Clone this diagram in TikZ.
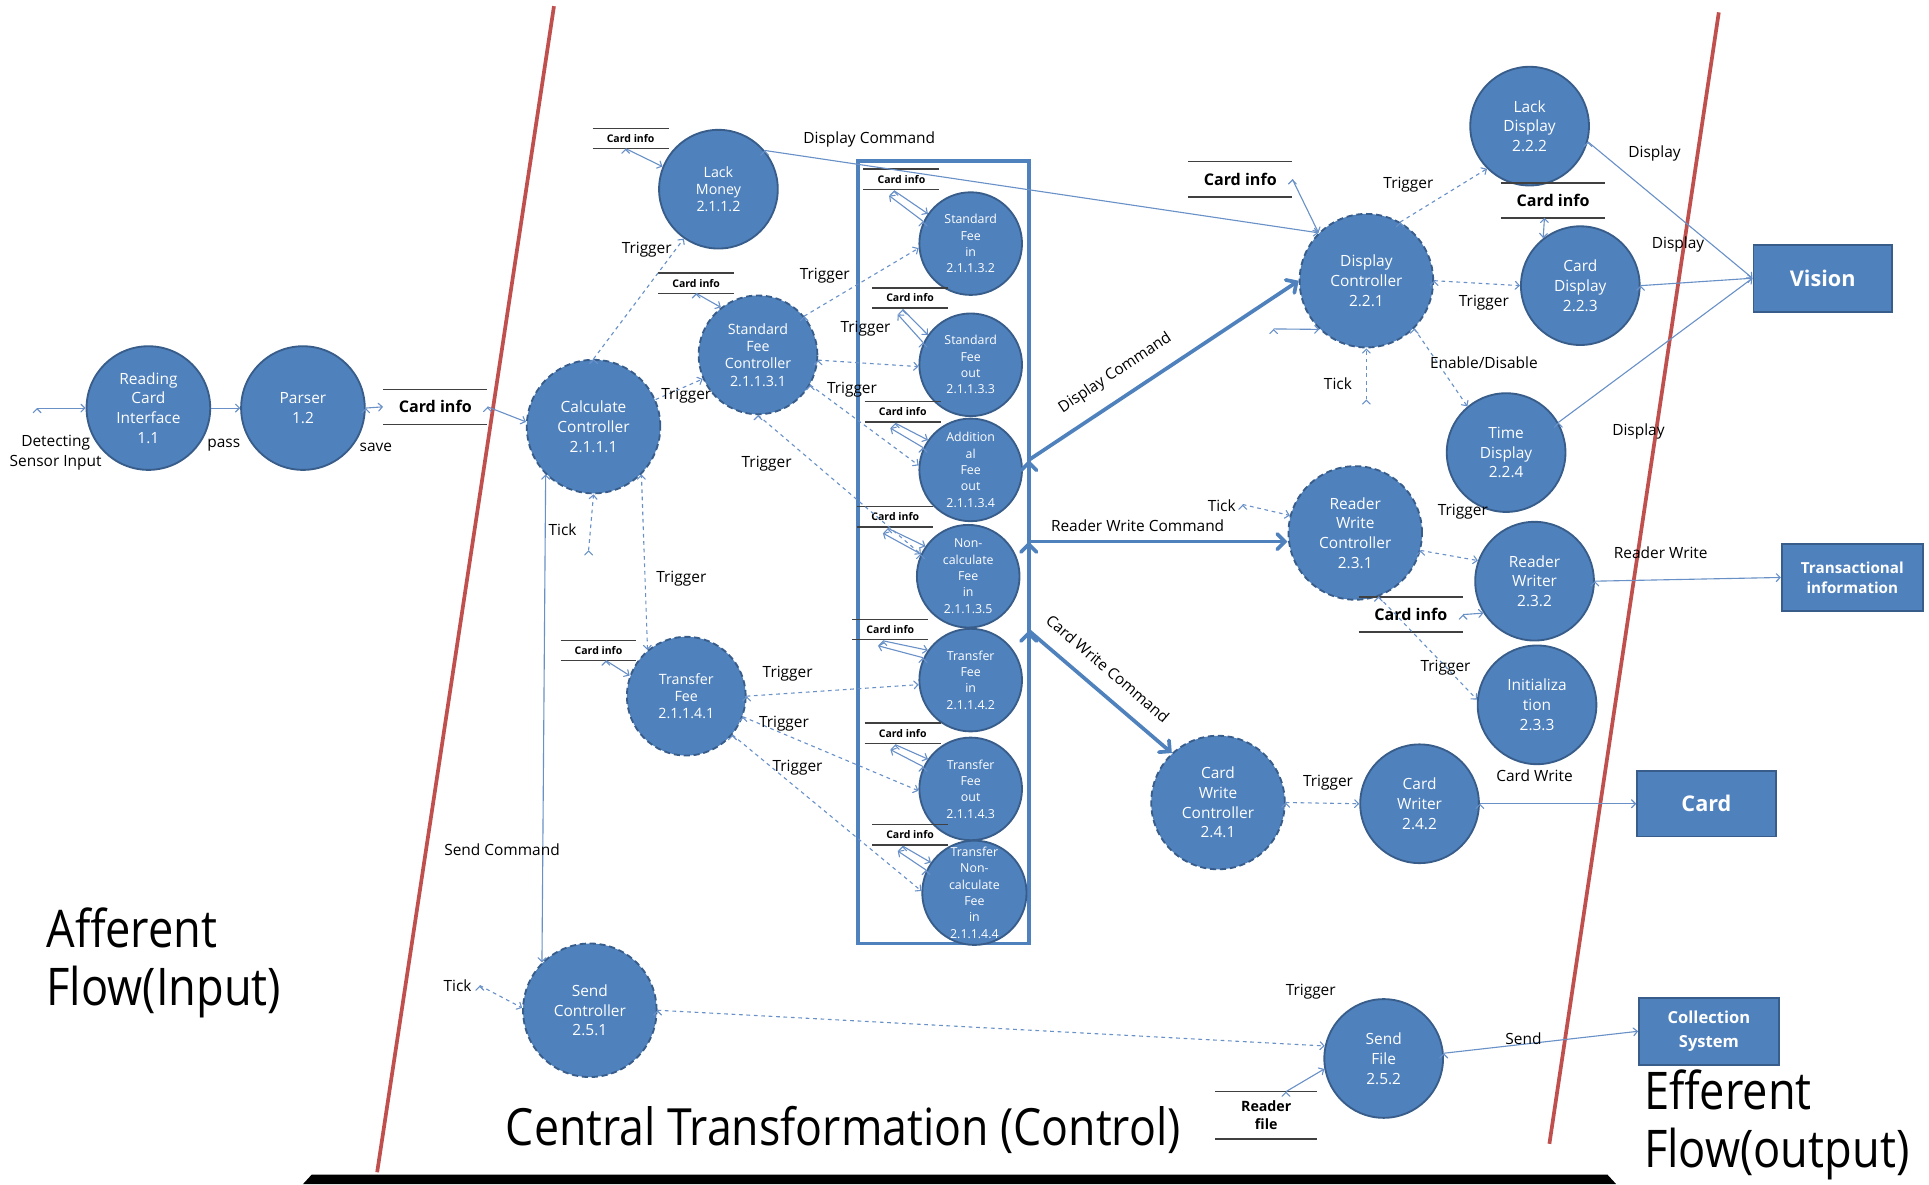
\documentclass[tikz,border=0pt]{standalone}
\usepackage{fontspec}
\setmainfont{Open Sans}
\newfontfamily\bigfont[FakeStretch=0.87]{Open Sans}
\usetikzlibrary{arrows}

\definecolor{dfdblue}{RGB}{79,129,189}
\definecolor{dfdedge}{RGB}{56,93,138}
\definecolor{flowcol}{RGB}{105,145,200}
\definecolor{splitred}{RGB}{192,80,77}

\begin{document}
\begin{tikzpicture}[x=1pt,y=-1pt,
   proc/.style={circle,fill=dfdblue,draw=dfdedge,line width=1.5pt,text=white,align=center,inner sep=0pt,minimum size=96pt,font=\fontsize{12.5}{16}\selectfont},
   ctrl/.style={proc,minimum size=108pt,dash pattern=on 5pt off 3pt},
   subctrl/.style={ctrl,minimum size=96pt,font=\fontsize{11.5}{14}\selectfont},
   fee/.style={proc,minimum size=83pt,font=\fontsize{10}{13.2}\selectfont},
   ext/.style={rectangle,fill=dfdblue,draw=dfdedge,line width=1.5pt,text=white,align=center,inner sep=0pt},
   storeline/.style={draw=black!75,line width=1.2pt},
   store/.style={inner sep=0pt,minimum width=84pt,minimum height=28pt,align=center,font=\bfseries\fontsize{13}{15}\selectfont,
      append after command={(\tikzlastnode.north west) edge[storeline] (\tikzlastnode.north east)
                            (\tikzlastnode.south west) edge[storeline] (\tikzlastnode.south east)}},
   ministore/.style={store,minimum width=61pt,minimum height=16pt,font=\bfseries\fontsize{8.5}{10}\selectfont},
   lbl/.style={font=\fontsize{12.5}{16}\selectfont,align=center,inner sep=0pt},
   flow/.style={->,>=angle 90,draw=flowcol,line width=0.9pt},
   trig/.style={flow,dashed},
   cmd/.style={->,>=angle 90,draw=dfdblue,line width=3pt}]
   \useasboundingbox (0,0) rectangle (1560,957.6);

   % boundaries
   \draw[splitred,line width=3pt] (448,5) -- (305,948);
   \draw[splitred,line width=3pt] (1390,10) -- (1253,925);
   \fill[black] (245,957.6) -- (252,950) -- (1300,950) -- (1307,957.6) -- cycle;
   \node[anchor=west,align=left,font=\bigfont\fontsize{42}{47}\selectfont] (afferent) at (34,779) {Afferent\\Flow(Input)};
   \node[font=\bigfont\fontsize{41.5}{46}\selectfont] (central) at (682,914) {Central Transformation (Control)};
   \node[anchor=west,align=left,font=\bigfont\fontsize{42}{47}\selectfont] (efferent) at (1326,910) {Efferent\\Flow(output)};

   % afferent flow
   \coordinate (sensor) at (30,330);
   \node[proc,minimum size=100pt] (rci) at (120,330) {Reading\\Card\\Interface\\1.1};
   \node[proc,minimum size=100pt] (parser) at (245,330) {Parser\\1.2};
   \node[store] (cinfo) at (352,329) {Card info};
   \path[flow] (sensor) edge (rci.west);
   \path[flow] (rci) edge (parser);
   \path[flow] (parser.east) edge (cinfo.west);
   \node[lbl] (lsensor) at (45,366) {Detecting\\Sensor Input};
   \node[lbl] (lpass) at (181,360) {pass};
   \node[lbl] (lsave) at (304,362) {save};

   % calculation
   \node[ctrl] (calc) at (480,345) {Calculate\\Controller\\2.1.1.1};
   \node[proc,font=\fontsize{11.5}{14}\selectfont] (lackm) at (581,153) {Lack\\Money\\2.1.1.2};
   \node[subctrl] (sfc) at (613,287) {Standard\\Fee\\Controller\\2.1.1.3.1};
   \node[subctrl] (tf) at (555,563) {Transfer\\Fee\\2.1.1.4.1};
   \node[ministore] (slm) at (510,112) {Card info};
   \node[ministore] (ssfc) at (563,229) {Card info};
   \node[ministore] (stf) at (484,526) {Card info};
   \coordinate (calctick) at (476,445);
   \path[flow] (cinfo.east) edge (calc.176);
   \path[trig] (calc.north) edge (lackm.235);
   \path[trig] (calc) edge (sfc);
   \path[trig] (calc.-45) edge (tf.130);
   \path[trig] (calctick) edge (calc.south);
   \path[flow] ([xshift=-4pt]slm.south) edge (lackm.158);
   \path[flow] (ssfc.south) edge (sfc.128);
   \path[flow] ([xshift=6pt]stf.south) edge (tf.160);
   \node[lbl] (t1) at (523,202) {Trigger};
   \node[lbl] (t2) at (555,320) {Trigger};
   \node[lbl] (t3) at (551,468) {Trigger};
   \node[lbl] (k1) at (455,428) {Tick};

   % fee processes
   \node[draw=dfdblue,line width=3pt,minimum width=138pt,minimum height=633pt] (fees) at (763,446.5) {};
   \node[fee] (sfin) at (785,197) {Standard\\Fee\\in\\2.1.1.3.2};
   \node[fee] (sfout) at (785,295) {Standard\\Fee\\out\\2.1.1.3.3};
   \node[fee] (addout) at (785,380) {Addition\\al\\Fee\\out\\2.1.1.3.4};
   \node[fee] (ncin) at (783,466) {Non-\\calculate\\Fee\\in\\2.1.1.3.5};
   \node[fee] (tfin) at (785,550) {Transfer\\Fee\\in\\2.1.1.4.2};
   \node[fee] (tfout) at (785,638) {Transfer\\Fee\\out\\2.1.1.4.3};
   \node[fee] (tncin) at (788,722) {Transfer\\Non-\\calculate\\Fee\\in\\2.1.1.4.4};
   \node[ministore] (s1) at (729,145) {Card info};
   \node[ministore] (s2) at (736,241) {Card info};
   \node[ministore] (s3) at (730,333) {Card info};
   \node[ministore] (s4) at (724,418) {Card info};
   \node[ministore] (s5) at (720,509) {Card info};
   \node[ministore] (s6) at (730,593) {Card info};
   \node[ministore] (s7) at (736,675) {Card info};
   % read and write of card info, two short parallel arrows each
   \path[flow] ([shift={(-6,1)}]s1.south) edge ([shift={(2,-3)}]sfin.150);
   \path[flow] ([shift={(-2,3)}]sfin.150) edge ([shift={(-10,5)}]s1.south);
   \path[flow] ([shift={(-6,1)}]s2.south) edge ([shift={(2,-3)}]sfout.150);
   \path[flow] ([shift={(-2,3)}]sfout.150) edge ([shift={(-10,5)}]s2.south);
   \path[flow] ([shift={(-6,1)}]s3.south) edge ([shift={(2,-3)}]addout.150);
   \path[flow] ([shift={(-2,3)}]addout.150) edge ([shift={(-10,5)}]s3.south);
   \path[flow] ([shift={(-6,1)}]s4.south) edge ([shift={(2,-3)}]ncin.150);
   \path[flow] ([shift={(-2,3)}]ncin.150) edge ([shift={(-10,5)}]s4.south);
   \path[flow] ([shift={(-6,1)}]s5.south) edge ([shift={(2,-3)}]tfin.150);
   \path[flow] ([shift={(-2,3)}]tfin.150) edge ([shift={(-10,5)}]s5.south);
   \path[flow] ([shift={(-6,1)}]s6.south) edge ([shift={(2,-3)}]tfout.150);
   \path[flow] ([shift={(-2,3)}]tfout.150) edge ([shift={(-10,5)}]s6.south);
   \path[flow] ([shift={(-6,1)}]s7.south) edge ([shift={(2,-3)}]tncin.150);
   \path[flow] ([shift={(-2,3)}]tncin.150) edge ([shift={(-10,5)}]s7.south);
   \path[trig] (sfc.40) edge (sfin.185);
   \path[trig] (sfc.-5) edge (sfout.182);
   \path[trig] (sfc.-30) edge (addout.175);
   \path[trig] (sfc.-90) edge (ncin.155);
   \path[trig] (tf.east) edge (tfin.185);
   \path[trig] (tf.-20) edge (tfout.182);
   \path[trig] (tf.-40) edge (tncin.178);
   \node[lbl] (t4) at (667,223) {Trigger};
   \node[lbl] (t5) at (700,266) {Trigger};
   \node[lbl] (t6) at (689,315) {Trigger};
   \node[lbl] (t7) at (620,375) {Trigger};
   \node[lbl] (t8) at (637,545) {Trigger};
   \node[lbl] (t9) at (634,585) {Trigger};
   \node[lbl] (t10) at (645,621) {Trigger};

   % display
   \node[ctrl] (dc) at (1105,227) {Display\\Controller\\2.2.1};
   \node[proc] (lackd) at (1237,102) {Lack\\Display\\2.2.2};
   \node[proc] (cardd) at (1278,231) {Card\\Display\\2.2.3};
   \node[proc] (timed) at (1218,366) {Time\\Display\\2.2.4};
   \node[store] (sdc) at (1003,145) {Card info};
   \node[store] (scd) at (1256,162) {Card info};
   \node[ext,minimum width=112pt,minimum height=54pt,font=\bfseries\fontsize{17.5}{20}\selectfont] (vision) at (1474,225) {Vision};
   \coordinate (dcmd) at (832,372);
   \coordinate (dcin) at (1030,266);
   \coordinate (dctick) at (1105,323);
   \path[flow] (lackm.40) edge (dc.135);
   \path[cmd] (dcmd) edge node[sloped,above=12pt,pos=0.37,lbl] {Display Command} (dc.west);
   \path[flow] (sdc.east) edge (dc.135);
   \path[flow] (dcin) edge (dc.226);
   \path[trig] (dctick) edge (dc.south);
   \path[trig] (dc.60) edge (lackd.225);
   \path[trig] (dc.east) edge (cardd.west);
   \path[trig] (dc.-45) edge (timed.130);
   \path[flow] ([xshift=-7pt]scd.south) edge (cardd.128);
   \path[flow] (lackd.-15) edge (vision.west);
   \path[flow] (cardd.east) edge (vision.west);
   \path[flow] (timed.30) edge (vision.west);
   \node[lbl] (ldcmd) at (703,113) {Display Command};
   \node[lbl] (t11) at (1139,149) {Trigger};
   \node[lbl] (t12) at (1200,245) {Trigger};
   \node[lbl] (len) at (1200,293) {Enable/Disable};
   \node[lbl] (k2) at (1082,310) {Tick};
   \node[lbl] (ld1) at (1338,124) {Display};
   \node[lbl] (ld2) at (1357,198) {Display};
   \node[lbl] (ld3) at (1325,349) {Display};

   % reader write
   \node[ctrl] (rwc) at (1096,431) {Reader\\Write\\Controller\\2.3.1};
   \node[proc] (rw) at (1241,470) {Reader\\Writer\\2.3.2};
   \node[proc] (init) at (1243,570) {Initializa\\tion\\2.3.3};
   \node[store] (srw) at (1141,497) {Card info};
   \node[ext,minimum width=114pt,minimum height=54pt,font=\bfseries\fontsize{12.3}{16}\selectfont] (trans) at (1498,467) {Transactional\\information};
   \coordinate (rcmd) at (832,438);
   \coordinate (rwtick) at (1005,408);
   \path[cmd] (rcmd) edge (rcmd -| rwc.west);
   \path[trig] (rwtick) edge (rwc.165);
   \path[trig] (rwc.-15) edge (rw.160);
   \path[trig] (rwc.-70) edge (init.175);
   \path[flow] (srw.east) edge (rw.212);
   \path[flow] (rw.east) edge (trans.west);
   \node[lbl] (lrcmd) at (920,425) {Reader Write Command};
   \node[lbl] (k3) at (988,409) {Tick};
   \node[lbl] (t13) at (1183,414) {Trigger};
   \node[lbl] (t14) at (1169,540) {Trigger};
   \node[lbl] (lrw) at (1343,447) {Reader Write};

   % card write
   \node[ctrl] (cwc) at (985,649) {Card\\Write\\Controller\\2.4.1};
   \node[proc] (cw) at (1148,650) {Card\\Writer\\2.4.2};
   \node[ext,minimum width=112pt,minimum height=53pt,font=\bfseries\fontsize{17.5}{20}\selectfont] (card) at (1380,650) {Card};
   \coordinate (ccmd) at (832,510);
   \path[cmd] (ccmd) edge node[sloped,above=12pt,pos=0.45,lbl] {Card Write Command} (cwc.133);
   \path[trig] (cwc.east) edge (cw.west);
   \path[flow] (cw.east) edge (card.west);
   \node[lbl] (t15) at (1074,633) {Trigger};
   \node[lbl] (lcw) at (1241,627) {Card Write};

   % send
   \node[ctrl] (sendc) at (477,817) {Send\\Controller\\2.5.1};
   \node[proc] (sendf) at (1119,856) {Send\\File\\2.5.2};
   \node[store,minimum width=82pt,minimum height=38pt,font=\bfseries\fontsize{11.5}{15}\selectfont] (srf) at (1024,902) {Reader\\file};
   \node[ext,minimum width=113pt,minimum height=54pt,font=\bfseries\fontsize{13.4}{20}\selectfont] (coll) at (1382,834) {Collection\\System};
   \coordinate (sendtick) at (388,797);
   \path[flow] (calc.225) edge (sendc.135);
   \path[trig] (sendtick) edge (sendc.178);
   \path[trig] (sendc.east) edge (sendf.168);
   \path[flow] ([xshift=16pt]srf.north) edge (sendf.190);
   \path[flow] (sendf.5) edge (coll.west);
   \node[lbl] (lsend) at (406,687) {Send Command};
   \node[lbl] (k4) at (370,797) {Tick};
   \node[lbl] (t16) at (1060,802) {Trigger};
   \node[lbl] (ls) at (1232,840) {Send};
\end{tikzpicture}
\end{document}
